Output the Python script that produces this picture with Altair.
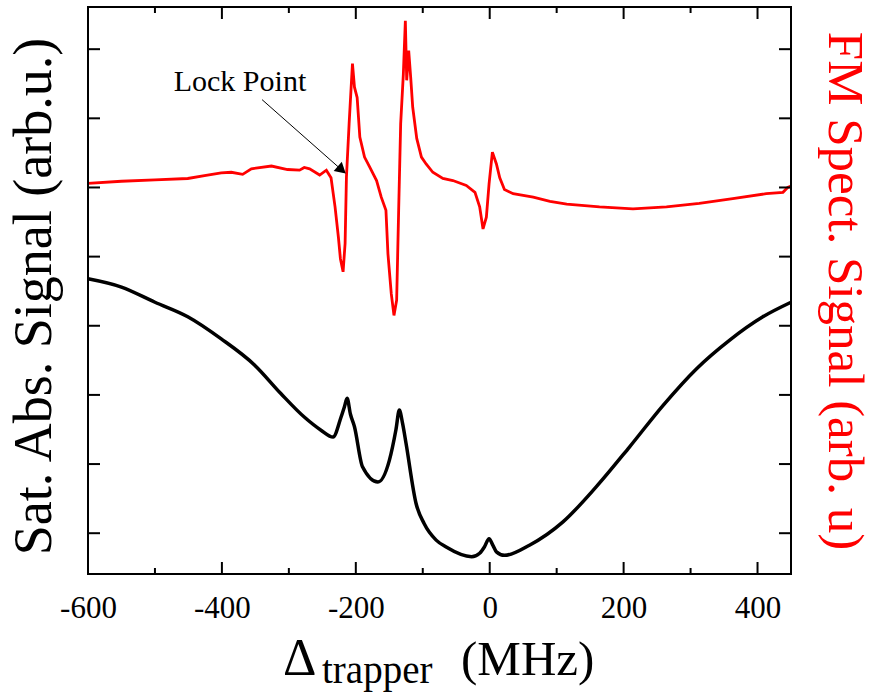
import altair as alt
import pandas as pd

FONT = "Liberation Serif"

# Saturated absorption signal (black), detuning in MHz vs signal (arb. u.)
sat_x = [-600, -550, -500, -451, -401, -351, -312, -277, -252, -234, -222, -217, -213,
         -208, -202, -190, -167, -150, -140, -135, -130, -125, -110, -98, -80, -65,
         -27, -15, -8, -1, 5, 10, 22, 60, 109, 159, 209, 259, 309, 358, 408, 450]
sat_y = [4.68, 4.56, 4.34, 4.13, 3.81, 3.43, 3.02, 2.68, 2.49, 2.39, 2.68, 2.83, 2.95,
         2.72, 2.54, 1.96, 1.74, 2.05, 2.50, 2.78, 2.58, 2.30, 1.43, 1.14, 0.90, 0.80,
         0.66, 0.71, 0.80, 0.92, 0.82, 0.73, 0.68, 0.83, 1.16, 1.67, 2.25, 2.85, 3.38,
         3.79, 4.13, 4.34]

# FM spectroscopy signal (red)
fm_x = [-600, -550, -500, -451, -426, -401, -386, -369, -356, -326, -302, -284, -277,
        -269, -254, -244, -237, -231, -226, -223, -219, -216, -214, -210, -205, -202,
        -198, -194, -187, -179, -169, -162, -155, -152, -147, -143, -139, -136, -133,
        -129, -126, -124, -121, -118, -115, -109, -102, -95, -85, -70, -55, -35, -22,
        -15, -10, -5, -1, 4, 10, 15, 22, 35, 65, 90, 115, 164, 214, 264, 313, 363, 413,
        438, 445, 450]
fm_y = [6.06, 6.09, 6.11, 6.13, 6.17, 6.21, 6.22, 6.19, 6.27, 6.31, 6.26, 6.25, 6.29,
        6.27, 6.18, 6.25, 6.14, 5.72, 5.28, 4.97, 4.78, 5.19, 6.15, 6.92, 7.79, 7.45,
        7.30, 6.73, 6.44, 6.29, 6.10, 5.86, 5.67, 5.04, 4.46, 4.15, 4.37, 5.67, 6.92,
        7.64, 8.41, 7.55, 7.98, 7.59, 7.16, 6.71, 6.44, 6.34, 6.22, 6.13, 6.10, 6.03, 5.93,
        5.72, 5.40, 5.57, 6.05, 6.51, 6.34, 6.14, 5.97, 5.91, 5.86, 5.80, 5.76, 5.72, 5.69,
        5.72, 5.77, 5.84, 5.91, 5.93, 6.00, 6.02]

x_labels = [-600, -400, -200, 0, 200, 400]
x_minor = [-500, -300, -100, 100, 300]
y_ticks = [1, 2, 3, 4, 5, 6, 7, 8]

lock_label = ["Lock Point"]
lock_text_pos = [-373, 7.40]
arrow_from = [-340, 7.27]
arrow_to = [-216, 6.21]
arrow_head_pos = [-223, 6.27]

x_title_parts = ["Δ", "trapper", "(MHz)"]
left_title = "Sat. Abs. Signal (arb.u.)"
right_title = ["FM Spect. Signal (arb. u)"]

W, H = 703, 567
xs = alt.Scale(domain=[-600, 450], nice=False, zero=False)
ys = alt.Scale(domain=[0.41, 8.61], nice=False, zero=False)

xaxis = alt.Axis(values=x_labels, labelExpr="'' + datum.value", ticks=False, domain=False,
                 grid=False, title=None, labelFont=FONT, labelFontSize=31,
                 labelColor="black", labelPadding=19, labelFlush=False)
yaxis = alt.Axis(title=left_title, labels=False, ticks=False, domain=False, grid=False,
                 titleFont=FONT, titleFontSize=54, titleFontWeight="normal",
                 titleColor="black", titlePadding=27, titleY=289)

sat = pd.DataFrame({"x": sat_x, "y": sat_y})
fm = pd.DataFrame({"x": fm_x, "y": fm_y})

black = alt.Chart(sat).mark_line(color="black", strokeWidth=3.5, interpolate="monotone").encode(
    x=alt.X("x:Q", scale=xs, axis=xaxis), y=alt.Y("y:Q", scale=ys, axis=yaxis))

red = alt.Chart(fm).mark_line(color="#ff0000", strokeWidth=2.8).encode(
    x=alt.X("x:Q", scale=xs, axis=xaxis), y=alt.Y("y:Q", scale=ys, axis=yaxis))

one = pd.DataFrame({"a": [0]})
frame = alt.Chart(one).mark_rect(fill=None, stroke="black", strokeWidth=2).encode(
    x=alt.value(0), x2=alt.value(W), y=alt.value(0), y2=alt.value(H))

ytk = pd.DataFrame({"t": y_ticks})
left_ticks = alt.Chart(ytk).mark_rule(color="black", strokeWidth=2).encode(
    y=alt.Y("t:Q", scale=ys, axis=yaxis), x=alt.value(0), x2=alt.value(12))
right_ticks = alt.Chart(ytk).mark_rule(color="black", strokeWidth=2).encode(
    y=alt.Y("t:Q", scale=ys, axis=yaxis), x=alt.value(W - 12), x2=alt.value(W))

xmaj = pd.DataFrame({"t": x_labels})
xmin = pd.DataFrame({"t": x_minor})
def xticks(df, y0, y1):
    return alt.Chart(df).mark_rule(color="black", strokeWidth=2).encode(
        x=alt.X("t:Q", scale=xs, axis=xaxis), y=alt.value(y0), y2=alt.value(y1))

bot_major = xticks(xmaj, H, H - 12)
bot_minor = xticks(xmin, H, H - 6)
top_major = xticks(xmaj, 0, 12)
top_minor = xticks(xmin, 0, 6)

arr = pd.DataFrame({"x": [arrow_from[0]], "y": [arrow_from[1]],
                    "x2": [arrow_to[0]], "y2": [arrow_to[1]]})
arrow_line = alt.Chart(arr).mark_rule(color="black", strokeWidth=1).encode(
    x=alt.X("x:Q", scale=xs, axis=xaxis), y=alt.Y("y:Q", scale=ys, axis=yaxis),
    x2="x2:Q", y2="y2:Q")
head = pd.DataFrame({"x": [arrow_head_pos[0]], "y": [arrow_head_pos[1]]})
arrow_head = alt.Chart(head).mark_point(
    shape="triangle", filled=True, color="black", size=150, angle=131, opacity=1,
    strokeWidth=0).encode(
    x=alt.X("x:Q", scale=xs, axis=xaxis), y=alt.Y("y:Q", scale=ys, axis=yaxis))

lock = alt.Chart(pd.DataFrame({"x": [lock_text_pos[0]], "y": [lock_text_pos[1]],
                               "label": lock_label})).mark_text(
    font=FONT, fontSize=30, color="black", align="center", baseline="alphabetic").encode(
    x=alt.X("x:Q", scale=xs, axis=xaxis), y=alt.Y("y:Q", scale=ys, axis=yaxis), text="label:N")

def title_part(txt, size, px, py, color="black", angle=0, align="left"):
    return alt.Chart(pd.DataFrame({"label": [txt]})).mark_text(
        font=FONT, fontSize=size, color=color, align=align, baseline="alphabetic",
        angle=angle
    ).encode(x=alt.value(px), y=alt.value(py), text="label:N")

t_delta = title_part(x_title_parts[0], 52, 195, 668)
t_sub = title_part(x_title_parts[1], 39, 234, 676)
t_unit = title_part(x_title_parts[2], 49, 373, 668)
t_right = title_part(right_title[0], 51, 741, 284, color="#ff0000", angle=90, align="center")

chart = alt.layer(
    black, red, frame, left_ticks, right_ticks, bot_major, bot_minor, top_major, top_minor,
    arrow_line, arrow_head, lock, t_delta, t_sub, t_unit, t_right
).properties(
    width=W, height=H,
    autosize=alt.AutoSizeParams(type="none"),
    padding={"left": 88, "top": 7, "right": 81, "bottom": 120},
    background="white",
)

chart.save("out.html", embed_options={"renderer": "svg", "actions": False})
